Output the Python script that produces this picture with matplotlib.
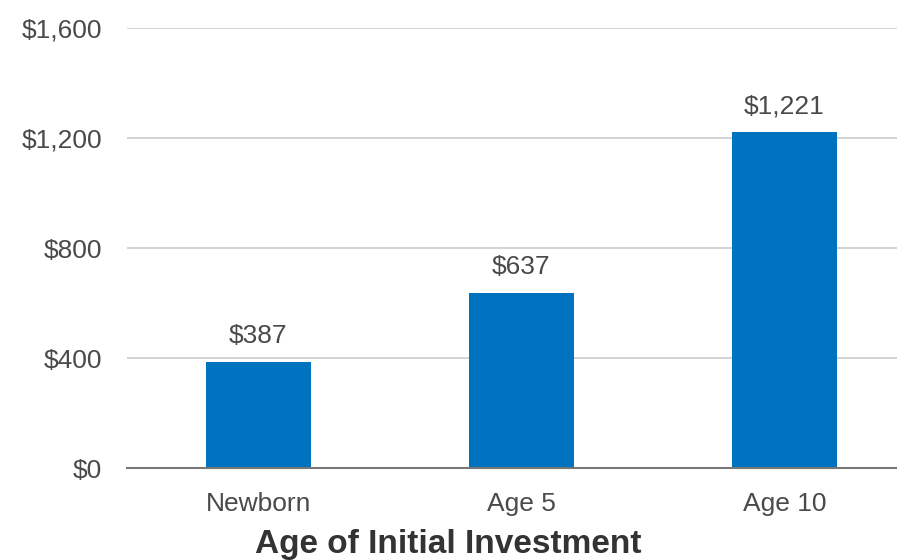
import matplotlib
matplotlib.use("Agg")
import matplotlib.pyplot as plt
from matplotlib.ticker import FuncFormatter

categories = ["Newborn", "Age 5", "Age 10"]
values = [387, 637, 1221]
yticks = [0, 400, 800, 1200, 1600]

plt.rcParams['font.family'] = ['Liberation Sans', 'DejaVu Sans']

fig = plt.figure(figsize=(8.97, 5.6), dpi=100)
# plot area runs past the right edge of the picture, as in the original
ax = fig.add_axes([127/897, 92/560, 789/897, 440/560])

x = range(len(categories))
ax.bar(x, values, width=0.4, color='#0073c0', zorder=3)
for xi, v in zip(x, values):
	ax.annotate('${:,}'.format(v), (xi, v), xytext=(0, 10), textcoords='offset points',
		ha='center', va='bottom', fontsize=19, color='#4a4a4a')

ax.set_xlim(-0.5, 2.5)
ax.set_ylim(0, 1600)
ax.set_yticks(yticks)
ax.yaxis.set_major_formatter(FuncFormatter(lambda v, p: '${:,.0f}'.format(v)))
ax.set_xticks(list(x))
ax.set_xticklabels(categories)
ax.tick_params(axis='both', length=0, labelsize=19, labelcolor='#4a4a4a')
ax.tick_params(axis='y', pad=18)
ax.tick_params(axis='x', pad=17)

ax.grid(axis='y', color='#cccccc', linewidth=1.2, zorder=0)
for s in ['top', 'right', 'left']:
	ax.spines[s].set_visible(False)
ax.spines['bottom'].set_color('#777777')
ax.spines['bottom'].set_linewidth(1.5)
ax.spines['bottom'].set_zorder(4)

fig.text(0.5, 16/560, 'Age of Initial Investment', ha='center', va='center',
	fontsize=24, fontweight='bold', color='#333333')

fig.savefig('out.png', dpi=100)
